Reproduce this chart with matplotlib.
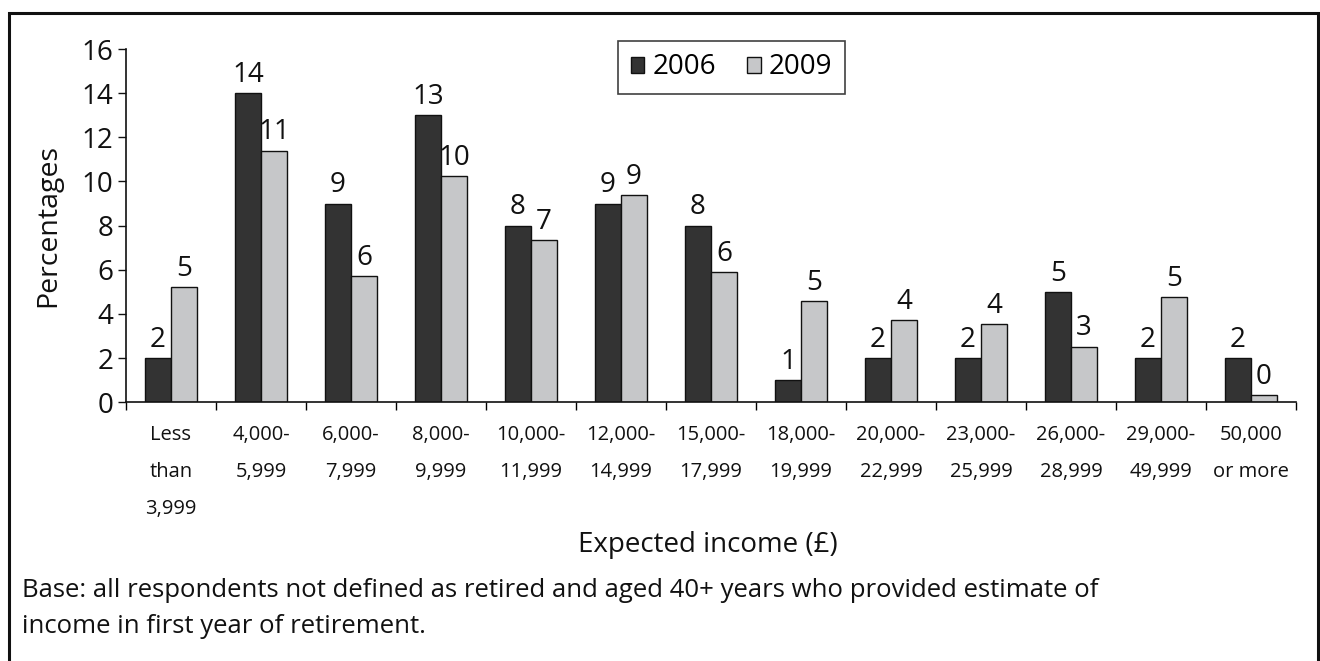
import matplotlib
matplotlib.use("Agg")
import matplotlib.pyplot as plt
from matplotlib.patches import Rectangle
import numpy as np

plt.rcParams['font.family'] = ['Open Sans', 'DejaVu Sans']

categories = ["Less\nthan\n3,999", "4,000-\n5,999", "6,000-\n7,999", "8,000-\n9,999",
              "10,000-\n11,999", "12,000-\n14,999", "15,000-\n17,999", "18,000-\n19,999",
              "20,000-\n22,999", "23,000-\n25,999", "26,000-\n28,999", "29,000-\n49,999",
              "50,000\nor more"]
values_2006 = [2, 14, 9, 13, 8, 9, 8, 1, 2, 2, 5, 2, 2]
values_2009 = [5.2, 11.4, 5.73, 10.26, 7.35, 9.37, 5.9, 4.6, 3.71, 3.56, 2.52, 4.77, 0.32]
series_names = ["2006", "2009"]
y_ticks = [0, 2, 4, 6, 8, 10, 12, 14, 16]

W, H = 1320, 661
fig = plt.figure(figsize=(W / 100, H / 100), dpi=100)
ink = "#111111"

# outer frame
fig.add_artist(Rectangle((9 / W, -0.05), (1318 - 9) / W, 1.05 - 13 / H,
                         transform=fig.transFigure, fill=False,
                         edgecolor=ink, linewidth=2.2))

ax = fig.add_axes([126 / W, 1 - 402.3 / H, (1296 - 126) / W, (402.3 - 49) / H])

n = len(categories)
x = np.arange(n)
bw = 0.289
dark, light = "#333333", "#c6c7c9"
b1 = ax.bar(x - bw / 2, values_2006, bw, color=dark, edgecolor=ink, linewidth=1,
            label=series_names[0])
b2 = ax.bar(x + bw / 2, values_2009, bw, color=light, edgecolor=ink, linewidth=1,
            label=series_names[1])

for bars, vals in ((b1, values_2006), (b2, values_2009)):
    for rect, v in zip(bars, vals):
        ax.annotate(f"{v:.0f}", (rect.get_x() + rect.get_width() / 2, v),
                    xytext=(0, 3), textcoords="offset points",
                    ha="center", va="bottom", fontsize=20, color=ink)

ax.set_xlim(-0.5, n - 0.5)
ax.set_ylim(0, 16)
ax.set_yticks(y_ticks)
ax.tick_params(axis="y", labelsize=20, length=6, width=1, direction="out", pad=3,
               colors=ink)

ax.set_xticks(x)
ax.set_xticklabels(categories, fontsize=14.5, linespacing=2.15, va="top")
ax.set_xticks(np.arange(n + 1) - 0.5, minor=True)
ax.tick_params(axis="x", which="major", length=0, pad=16, colors=ink)
ax.tick_params(axis="x", which="minor", length=6, width=1, direction="out")

for s in ("top", "right"):
    ax.spines[s].set_visible(False)
for s in ("left", "bottom"):
    ax.spines[s].set_linewidth(1.2)
    ax.spines[s].set_color(ink)

ax.set_ylabel("Percentages", fontsize=20.5, color=ink)
ax.yaxis.set_label_coords((62 - 126) / (1296 - 126), 0.5)

leg = ax.legend(loc="upper left", bbox_to_anchor=((618 - 126) / (1296 - 126), (402.3 - 41) / 353.3),
                borderaxespad=0, ncol=2, frameon=True, fancybox=False, fontsize=20,
                handlelength=0.5, handleheight=0.5, handletextpad=0.3,
                columnspacing=1.1, borderpad=0.45)
leg.get_frame().set_edgecolor(ink)
leg.get_frame().set_linewidth(1.2)

fig.text(708 / W, 1 - 552 / H, "Expected income (£)", ha="center", va="baseline",
         fontsize=20, color=ink)
fig.text(22 / W, 1 - 597 / H,
         "Base: all respondents not defined as retired and aged 40+ years who provided estimate of",
         ha="left", va="baseline", fontsize=18.5, color=ink)
fig.text(22 / W, 1 - 633 / H, "income in first year of retirement.",
         ha="left", va="baseline", fontsize=18.5, color=ink)

fig.savefig("out.png", dpi=100)
